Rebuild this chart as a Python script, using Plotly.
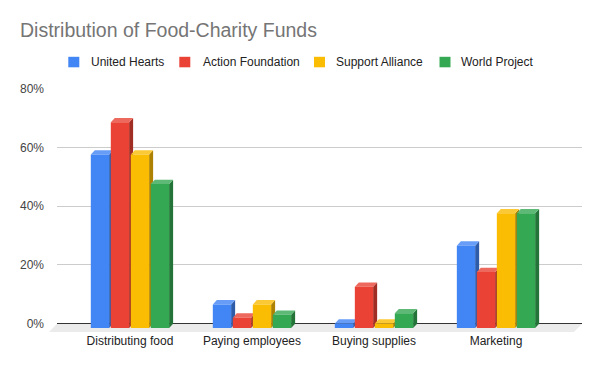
import plotly.graph_objects as go

# ---------------- data ----------------
categories = ["Distributing food", "Paying employees", "Buying supplies", "Marketing"]
series_names = ["United Hearts", "Action Foundation", "Support Alliance", "World Project"]
united_hearts = [59, 8, 1.5, 28]
action_foundation = [70, 3.5, 14, 19]
support_alliance = [59, 8, 1.5, 39]
world_project = [49, 4.5, 5, 39]
y_tick_values = [0, 20, 40, 60, 80]
y_tick_labels = ["0%", "20%", "40%", "60%", "80%"]

series_values = [united_hearts, action_foundation, support_alliance, world_project]

# ---------------- style ----------------
front_colors = ["#4285F4", "#EA4335", "#FBBC04", "#34A853"]
top_colors = ["#689DF7", "#EE695D", "#FCC936", "#5DB975"]
side_colors = ["#2E5CA8", "#A12E25", "#AD8203", "#247439"]
FONT = "Liberation Sans, Arial, sans-serif"

W, H = 600, 371
ML, MR, MT, MB = 57, 18, 88, 39
X_RANGE = [-0.598, 3.705]
Y_RANGE = [-2.85, 80.2]

pitch = 0.1639      # distance between series within a group (axis units)
bar_w = 0.15        # front face width
dx = 0.0328         # 3D depth along x (axis units)
dy = 1.47           # 3D depth along y (percent units)

fig = go.Figure()

for s, (name, vals) in enumerate(zip(series_names, series_values)):
    fx, fy, tx, ty, sx, sy = [], [], [], [], [], []
    for c, v in enumerate(vals):
        xc = c + (s - 1.5) * pitch
        x0, x1 = xc - bar_w / 2, xc + bar_w / 2
        yb, yt = -dy, v - dy
        # side face
        sx += [x1, x1 + dx, x1 + dx, x1, x1, None]
        sy += [yb, 0, v, yt, yb, None]
        # top face
        tx += [x0, x1, x1 + dx, x0 + dx, x0, None]
        ty += [yt, yt, v, v, yt, None]
        # front face
        fx += [x0, x1, x1, x0, x0, None]
        fy += [yb, yb, yt, yt, yb, None]
    for xs, ys, col in ((sx, sy, side_colors[s]), (tx, ty, top_colors[s]), (fx, fy, front_colors[s])):
        fig.add_trace(go.Scatter(
            x=xs, y=ys, mode="lines", fill="toself", fillcolor=col,
            line=dict(width=0, color=col), showlegend=False, hoverinfo="skip",
        ))

# ---------------- helpers for pixel placement ----------------
PW = W - ML - MR
PH = H - MT - MB


def xp(px):
    return (px - ML) / PW


def yp(py):
    return (H - MB - py) / PH


zero_paper = (0 - Y_RANGE[0]) / (Y_RANGE[1] - Y_RANGE[0])
floor_shift = 8 / PW

shapes = [dict(
    type="path", xref="paper", yref="paper", layer="below",
    path=f"M 0 {zero_paper} L 1 {zero_paper} L {1 - floor_shift} 0 L {-floor_shift} 0 Z",
    fillcolor="#EBEBEB", line=dict(width=0),
)]

# legend (manual, matching Google Sheets layout)
legend_square_px = [68.3, 179.3, 314.0, 439.5]
legend_text_px = [89.3, 200.7, 334.3, 459.3]
annotations = []
for s, name in enumerate(series_names):
    shapes.append(dict(
        type="rect", xref="paper", yref="paper",
        x0=xp(legend_square_px[s]), x1=xp(legend_square_px[s] + 11),
        y0=yp(67.3), y1=yp(56.8),
        fillcolor=front_colors[s], line=dict(width=0),
    ))
    annotations.append(dict(
        text=name, xref="paper", yref="paper", x=xp(legend_text_px[s]), y=yp(61.8),
        xanchor="left", yanchor="middle", showarrow=False,
        font=dict(family=FONT, size=12, color="#222222"),
    ))

fig.update_layout(
    width=W, height=H,
    margin=dict(l=ML, r=MR, t=MT, b=MB),
    paper_bgcolor="white", plot_bgcolor="white",
    showlegend=False,
    title=dict(
        text="Distribution of Food-Charity Funds",
        x=20 / W, xanchor="left", xref="container",
        y=1 - 30 / H, yanchor="middle", yref="container",
        font=dict(family=FONT, size=19.5, color="#757575"),
    ),
    xaxis=dict(
        range=X_RANGE, showgrid=False, zeroline=False, showline=False,
        tickvals=list(range(len(categories))),
        ticktext=categories, ticks="",
        tickfont=dict(family=FONT, size=12, color="#222222"),
        fixedrange=True,
    ),
    yaxis=dict(
        range=Y_RANGE, tickvals=y_tick_values, ticktext=y_tick_labels,
        showgrid=True, gridcolor="#CCCCCC", gridwidth=1,
        zeroline=True, zerolinecolor="#333333", zerolinewidth=1.3,
        showline=False, ticks="", ticklabelstandoff=12,
        tickfont=dict(family=FONT, size=12, color="#444444"),
        fixedrange=True,
    ),
    shapes=shapes,
    annotations=annotations,
)

fig.write_html(
    "out.html",
    config={"displayModeBar": False},
    post_script="document.body.style.margin='0';",
)
